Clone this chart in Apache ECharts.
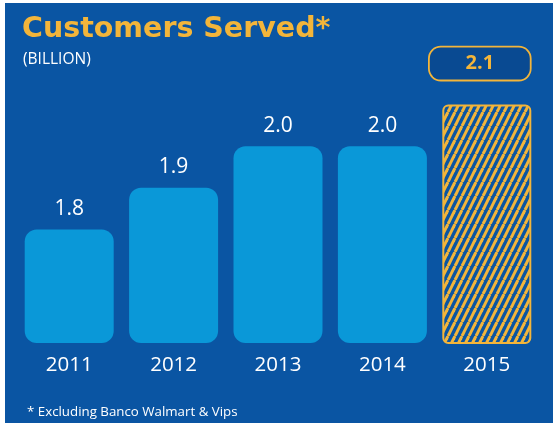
<!DOCTYPE html>
<html>
<head>
<meta charset="utf-8">
<script src="https://cdn.jsdelivr.net/npm/echarts@6/dist/echarts.min.js"></script>
<style>
  html, body { margin: 0; padding: 0; background: #ffffff; }
  #chart { width: 553px; height: 423px; }
</style>
</head>
<body>
<div id="chart"></div>
<script>
// Customers served per year, in billions
const years = ['2011', '2012', '2013', '2014', '2015'];
const customers = [1.8, 1.9, 2.0, 2.0, 2.1];
const highlightYear = '2015';

const BG = '#0a55a3';
const BAR = '#0a98d8';
const GOLD = '#f3b53a';

// Diagonal hatch used for the highlighted year
function hatchPattern() {
  const c = document.createElement('canvas');
  c.width = 7; c.height = 14;
  const ctx = c.getContext('2d');
  ctx.fillStyle = BG;
  ctx.fillRect(0, 0, 7, 14);
  ctx.strokeStyle = GOLD;
  ctx.lineWidth = 3;
  for (let x0 = -14; x0 <= 14; x0 += 7) {
    ctx.beginPath();
    ctx.moveTo(x0, 14);
    ctx.lineTo(x0 + 7, 0);
    ctx.stroke();
  }
  return { image: c, repeat: 'repeat' };
}

const chart = echarts.init(document.getElementById('chart'), null, { renderer: 'canvas' });

const barData = years.map((y, i) => {
  if (y === highlightYear) {
    return {
      value: customers[i],
      itemStyle: {
        color: hatchPattern(),
        borderColor: GOLD,
        borderWidth: 2,
        borderRadius: 5
      },
      label: {
        show: true,
        position: 'top',
        distance: 25,
        offset: [-7, 0],
        color: GOLD,
        fontFamily: 'Open Sans',
        fontWeight: 'bold',
        fontSize: 20,
        backgroundColor: '#094a92',
        borderColor: GOLD,
        borderWidth: 1.8,
        borderRadius: 11,
        width: 100,
        align: 'center',
        padding: [5, 0, 5, 0],
        lineHeight: 22
      }
    };
  }
  return { value: customers[i] };
});

chart.setOption({
  backgroundColor: BG,
  animation: false,
  title: [
    {
      text: 'Customers Served*',
      left: 17, top: 10,
      textStyle: { color: GOLD, fontFamily: 'DejaVu Sans', fontWeight: 'bold', fontSize: 28.5 }
    },
    {
      text: '(BILLION)',
      left: 18, top: 47,
      textStyle: { color: '#ffffff', fontFamily: 'Open Sans', fontWeight: 'normal', fontSize: 15.5 }
    },
    {
      text: '* Excluding Banco Walmart & Vips',
      left: 22, top: 401,
      textStyle: { color: '#ffffff', fontFamily: 'Open Sans', fontWeight: 'normal', fontSize: 13.3 }
    }
  ],
  grid: { left: 17, right: 553 - 17 - 522, top: 63, bottom: 80 },
  xAxis: {
    type: 'category',
    data: years,
    axisLine: { show: false },
    axisTick: { show: false },
    axisLabel: { color: '#ffffff', fontFamily: 'Open Sans', fontSize: 20.5, margin: 12 }
  },
  yAxis: {
    type: 'value',
    min: 1.527,
    max: 2.2,
    show: false,
    splitLine: { show: false }
  },
  series: [{
    type: 'bar',
    data: barData,
    barWidth: 89,
    itemStyle: { color: BAR, borderRadius: 12 },
    label: {
      show: true,
      position: 'top',
      distance: 10,
      color: '#ffffff',
      fontFamily: 'Open Sans',
      fontSize: 21,
      formatter: p => p.value.toFixed(1)
    }
  }],
  graphic: [
    { type: 'rect', shape: { x: 0, y: 0, width: 5, height: 423 }, style: { fill: '#ffffff' }, z: 100 },
    { type: 'rect', shape: { x: 0, y: 0, width: 553, height: 3 }, style: { fill: '#ffffff' }, z: 100 }
  ]
});
</script>
</body>
</html>
